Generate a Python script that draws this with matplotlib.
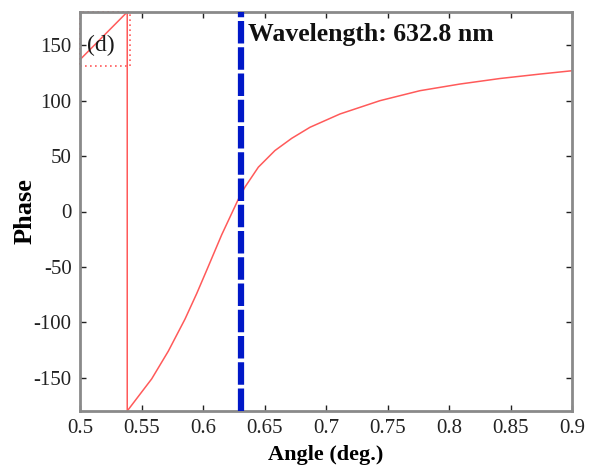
import matplotlib
matplotlib.use("Agg")
import matplotlib.pyplot as plt

# Data
angle = [0.500, 0.5384, 0.5384, 0.5480, 0.5583, 0.5718, 0.5854, 0.5949, 0.6030,
         0.6152, 0.6287, 0.6341, 0.6450, 0.6585, 0.6721, 0.6870, 0.7114, 0.7439,
         0.7764, 0.8089, 0.8415, 0.8740, 0.900]
phase = [137, 180, -180, -166, -151, -126, -97, -74, -53,
         -21, 11, 22, 40, 55, 66, 76, 88, 100,
         109, 115, 120, 124, 127]
wavelength_angle = 0.6309
zoom_box_x = [0.5, 0.5405]
zoom_box_y = [131, 180]
xticks = [0.5, 0.55, 0.6, 0.65, 0.7, 0.75, 0.8, 0.85, 0.9]
xtick_labels = ['0.5', '0.55', '0.6', '0.65', '0.7', '0.75', '0.8', '0.85', '0.9']
yticks = [-150, -100, -50, 0, 50, 100, 150]
ytick_labels = ['-150', '-100', '-50', '0', '50', '100', '150']

plt.rcParams['font.family'] = ['Liberation Serif', 'DejaVu Serif']

fig = plt.figure(figsize=(5.93, 4.71), dpi=100)
ax = fig.add_axes([80/593, 1-411/471, (572-80)/593, (411-12)/471])

ax.plot(angle, phase, color='#ff5a5a', lw=1.1, zorder=2, solid_joinstyle='round')
ax.axvline(wavelength_angle, color='#0018c8', lw=4.5, dashes=(3.6, 0.6), zorder=3)

# dotted zoom box
bx = [zoom_box_x[0], zoom_box_x[1], zoom_box_x[1], zoom_box_x[0], zoom_box_x[0]]
by = [zoom_box_y[0], zoom_box_y[0], zoom_box_y[1], zoom_box_y[1], zoom_box_y[0]]
ax.plot(bx, by, color='#ff5a5a', lw=1.2, ls=(0, (1, 2)), zorder=2, clip_on=False)

ax.text(0.5055, 150, '(d)', fontsize=17, va='center', ha='left', color='#1a1a1a')
ax.text(0.6365, 160, 'Wavelength: 632.8 nm', fontsize=18.5, fontweight='bold',
        va='center', ha='left', color='#111111')

ax.set_xlim(0.5, 0.9)
ax.set_ylim(-180, 180)
ax.set_xticks(xticks)
ax.set_xticklabels(xtick_labels)
ax.set_yticks(yticks)
ax.set_yticklabels(ytick_labels)
ax.tick_params(direction='in', length=4, width=1, top=True, right=True,
               labelsize=15, colors='#222222', pad=6)
for s in ax.spines.values():
    s.set_color('#8a8a8a')
    s.set_linewidth(2)

ax.set_xlabel('Angle (deg.)', fontsize=16, fontweight='bold', labelpad=5)
ax.set_ylabel('Phase', fontsize=19, fontweight='bold', labelpad=-2)

fig.savefig('out.png', dpi=100)
